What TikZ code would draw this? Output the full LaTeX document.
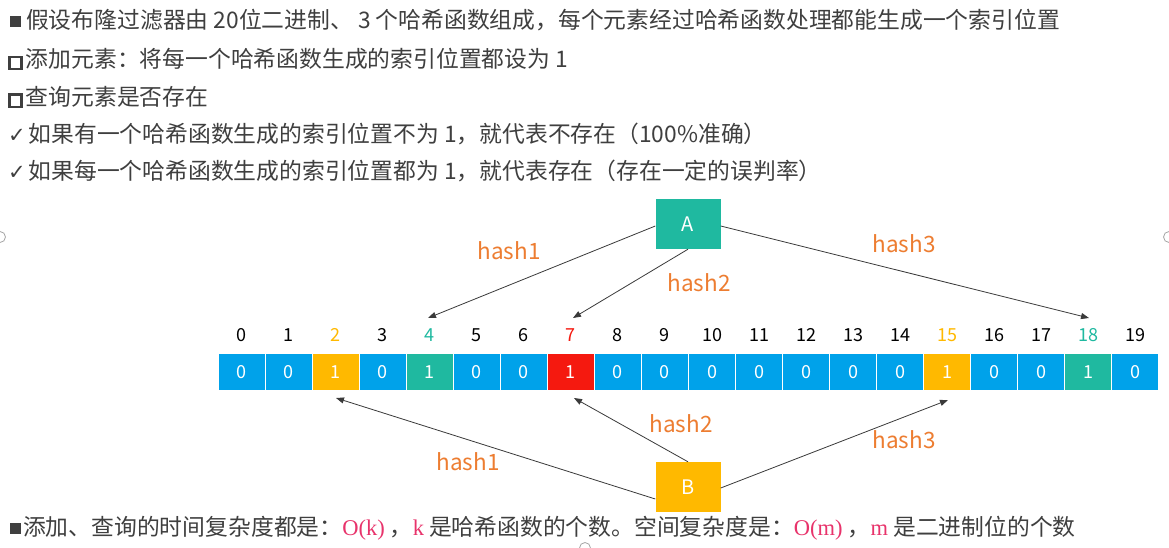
\documentclass[tikz,border=0pt]{standalone}
\usepackage{fontspec}
\setmainfont{Noto Sans CJK SC}
\newfontfamily\symfont{DejaVu Sans}
\newfontfamily\mathlike{Liberation Serif}
\usetikzlibrary{arrows.meta}
\definecolor{txt}{HTML}{3F3F3F}
\definecolor{cblue}{HTML}{00A2EA}
\definecolor{cgold}{HTML}{FFB900}
\definecolor{cteal}{HTML}{1FB9A0}
\definecolor{cred}{HTML}{F5190F}
\definecolor{horange}{HTML}{ED7D31}
\definecolor{pinkc}{HTML}{E8336B}
\definecolor{linec}{HTML}{3A3A3A}
\newcommand{\fullsq}{\raisebox{1.5pt}{\color{txt}\rule{11pt}{11pt}}\hspace{5pt}}
\newcommand{\hollowsq}{\raisebox{-0.5pt}{\setlength{\fboxsep}{0pt}\setlength{\fboxrule}{2.6pt}\fbox{\rule{0pt}{9.5pt}\hspace{9.5pt}}}\hspace{3pt}}
\newcommand{\checkm}{{\symfont\fontsize{21}{21}\selectfont ✓}\hspace{3pt}}
\newcommand{\pinkt}[1]{{\mathlike\fontsize{22.5}{24}\selectfont\color{pinkc}#1}}
\begin{document}
\begin{tikzpicture}[x=1pt,y=-1pt,
  txtline/.style={anchor=west,inner sep=0pt,text=txt,font=\fontsize{22.8}{26}\selectfont},
  cell/.style={minimum width=46pt,minimum height=36pt,inner sep=0pt,text=white,font=\fontsize{18}{20}\selectfont},
  idx/.style={inner sep=0pt,font=\fontsize{18}{20}\selectfont},
  elem/.style={minimum width=65pt,minimum height=50pt,inner sep=0pt,text=white,font=\fontsize{20}{22}\selectfont},
  hlab/.style={inner sep=0pt,text=horange,font=\fontsize{22.5}{24}\selectfont},
  harrow/.style={draw=linec,line width=0.8pt,-{Triangle[length=8pt,width=6pt]}}]
\useasboundingbox (0,0) rectangle (1169,548);
\fill[white] (0,0) rectangle (1169,548);
% edge handles
\draw[gray!70,line width=0.8pt] (0,237) circle (5.5);
\draw[gray!70,line width=0.8pt] (1169,237) circle (5.5);
\draw[gray!70,line width=0.8pt] (585,548) circle (5.5);
% text lines
\node[txtline] (l1) at (10,20) {\fullsq 假设布隆过滤器由 20位二进制、 3 个哈希函数组成，每个元素经过哈希函数处理都能生成一个索引位置};
\node[txtline] (l2) at (8,59) {\hollowsq 添加元素：将每一个哈希函数生成的索引位置都设为 1};
\node[txtline] (l3) at (8,97) {\hollowsq 查询元素是否存在};
\node[txtline] (l4) at (8,134) {\checkm 如果有一个哈希函数生成的索引位置不为 1，就代表不存在（100\%准确）};
\node[txtline] (l5) at (8,171) {\checkm 如果每一个哈希函数生成的索引位置都为 1，就代表存在（存在一定的误判率）};
\node[txtline] (l6) at (10,528) {\raisebox{1.5pt}{\color{txt}\rule{11pt}{11pt}}\hspace{2pt}添加、查询的时间复杂度都是：\pinkt{O(k)} ，\pinkt{k} 是哈希函数的个数。空间复杂度是：\pinkt{O(m)} ，\pinkt{m} 是二进制位的个数};
% cells
\foreach \i/\v/\c/\ic in {0/0/cblue/black,1/0/cblue/black,2/1/cgold/cgold,3/0/cblue/black,4/1/cteal/cteal,5/0/cblue/black,6/0/cblue/black,7/1/cred/cred,8/0/cblue/black,9/0/cblue/black,10/0/cblue/black,11/0/cblue/black,12/0/cblue/black,13/0/cblue/black,14/0/cblue/black,15/1/cgold/cgold,16/0/cblue/black,17/0/cblue/black,18/1/cteal/cteal,19/0/cblue/black}{
  \node[cell,fill=\c] (c\i) at ({218+47.05*(\i+0.5)},372) {\v};
  \node[idx,text=\ic] (i\i) at ({218+47.05*(\i+0.5)},335) {\i};
}
% elements
\node[elem,fill=cteal] (A) at (688,224) {A};
\node[elem,fill=cgold] (B) at (688,487) {B};
% arrow targets
\coordinate (t4) at (428,318);
\coordinate (t7) at (573,318);
\coordinate (t18) at (1089,318);
\coordinate (b2) at (336,398);
\coordinate (b7) at (574,398);
\coordinate (b15) at (948,400);
\draw[harrow] ([yshift=-2pt]A.west) -- (t4);
\draw[harrow] (A.south) -- (t7);
\draw[harrow] ([yshift=-2pt]A.east) -- (t18);
\draw[harrow] ([yshift=-12pt]B.west) -- (b2);
\draw[harrow] (B.north) -- (b7);
\draw[harrow] ([yshift=-1pt]B.east) -- (b15);
% labels
\node[hlab] (h1a) at (509,251) {hash1};
\node[hlab] (h2a) at (699,283) {hash2};
\node[hlab] (h3a) at (904,244) {hash3};
\node[hlab] (h1b) at (468,462) {hash1};
\node[hlab] (h2b) at (681,424) {hash2};
\node[hlab] (h3b) at (904,440) {hash3};
\end{tikzpicture}
\end{document}
